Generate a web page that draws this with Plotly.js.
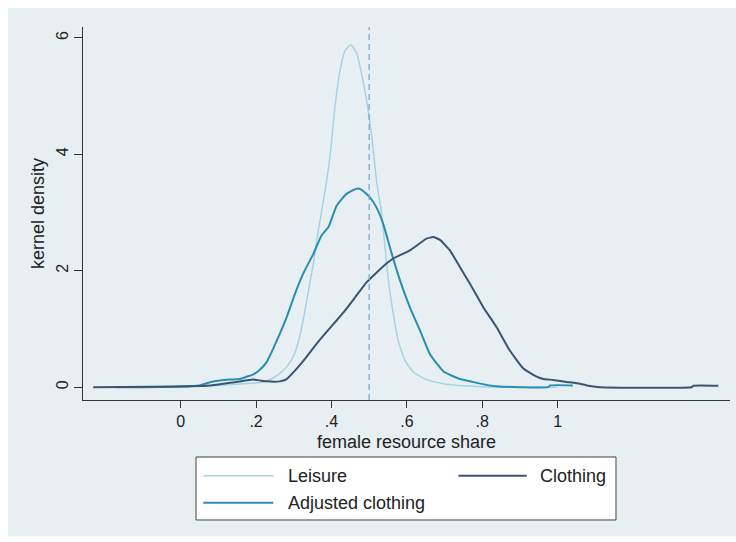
<!DOCTYPE html>
<html>
<head>
<meta charset="utf-8">
<script src="https://cdn.plot.ly/plotly-3.0.1.min.js"></script>
<style>html,body{margin:0;padding:0;background:#fff;}#chart{width:736px;height:542px;}</style>
</head>
<body>
<div id="chart"></div>
<script>
// Leisure kernel density
const leisureX = [-0.10,0.00,0.05,0.10,0.15,0.20,0.22,0.24,0.26,0.28,0.30,0.315,0.325,0.339,0.352,0.365,0.380,0.396,0.409,0.423,0.436,0.451,0.467,0.480,0.493,0.507,0.520,0.533,0.542,0.551,0.564,0.577,0.595,0.617,0.652,0.697,0.759,0.85,1.0];
const leisureY = [0,0.01,0.02,0.03,0.05,0.07,0.09,0.14,0.22,0.34,0.54,0.85,1.15,1.66,2.12,2.69,3.25,3.95,4.80,5.45,5.78,5.88,5.73,5.38,4.93,4.30,3.52,2.98,2.41,1.83,1.26,0.80,0.46,0.26,0.13,0.06,0.02,0.0,0.0];
// Adjusted clothing kernel density
const adjX = [-0.17,-0.10,0.00,0.05,0.078,0.104,0.131,0.157,0.175,0.193,0.21,0.228,0.255,0.281,0.303,0.325,0.352,0.374,0.392,0.414,0.440,0.467,0.480,0.502,0.520,0.537,0.560,0.582,0.608,0.635,0.661,0.680,0.697,0.741,0.785,0.829,0.90,0.975,0.98,1.04];
const adjY = [0,0,0.01,0.03,0.086,0.115,0.13,0.14,0.18,0.22,0.30,0.43,0.80,1.20,1.60,1.95,2.29,2.61,2.75,3.12,3.32,3.41,3.39,3.26,3.08,2.81,2.29,1.83,1.37,0.97,0.57,0.40,0.27,0.14,0.075,0.02,0.0,0.0,0.03,0.03];
// Clothing kernel density
const clothX = [-0.232,0.00,0.05,0.08,0.104,0.149,0.193,0.228,0.263,0.281,0.308,0.334,0.361,0.387,0.414,0.440,0.467,0.493,0.520,0.545,0.564,0.608,0.652,0.670,0.688,0.714,0.741,0.767,0.803,0.838,0.873,0.909,0.944,0.962,0.980,1.024,1.059,1.077,1.112,1.355,1.36,1.426];
const clothY = [0,0.01,0.02,0.03,0.05,0.09,0.13,0.10,0.10,0.14,0.32,0.52,0.75,0.95,1.15,1.35,1.58,1.80,1.97,2.12,2.21,2.35,2.55,2.58,2.53,2.35,2.06,1.78,1.37,1.03,0.63,0.32,0.18,0.14,0.13,0.09,0.06,0.03,0.0,0.0,0.024,0.024];

const xTickVals = [0,0.2,0.4,0.6,0.8,1];
const xTickText = ['0','.2','.4','.6','.8','1'];
const yTickVals = [0,2,4,6];
const yTickText = ['0','2','4','6'];
const refLineX = 0.5;

const names = ['Leisure','Clothing','Adjusted clothing'];
const colors = {leisure:'#a6d2e2', cloth:'#3a5573', adj:'#2a8db3', ref:'#7aa6cc'};

const traces = [
  {x: leisureX, y: leisureY, type:'scatter', mode:'lines', name:names[0], line:{color:colors.leisure, width:1.5, shape:'spline', smoothing:0.5}, showlegend:false},
  {x: adjX, y: adjY, type:'scatter', mode:'lines', name:names[2], line:{color:colors.adj, width:2, shape:'spline', smoothing:0.5}, showlegend:false},
  {x: clothX, y: clothY, type:'scatter', mode:'lines', name:names[1], line:{color:colors.cloth, width:2, shape:'spline', smoothing:0.4}, showlegend:false}
];

const font = 'Liberation Sans, Arial, sans-serif';
const legY1 = -0.2029, legY2 = -0.2753;
const layout = {
  width:736, height:542,
  margin:{l:83, r:6, t:27, b:142},
  paper_bgcolor:'#ffffff',
  plot_bgcolor:'#ffffff',
  font:{family:font, color:'#222', size:16},
  xaxis:{
    range:[-0.259,1.457], tickvals:xTickVals, ticktext:xTickText,
    showgrid:false, zeroline:false, showline:true, linecolor:'#333', linewidth:1,
    ticks:'outside', ticklen:7, tickcolor:'#333', tickfont:{size:16, color:'#222'},
    title:{text:'female resource share', font:{size:18, color:'#222'}, standoff:6}
  },
  yaxis:{
    range:[-0.22,6.186], tickvals:yTickVals, ticktext:yTickText, tickangle:-90,
    showgrid:true, gridcolor:'#e4eef2', gridwidth:1, zeroline:false,
    showline:true, linecolor:'#333', linewidth:1,
    ticks:'outside', ticklen:8, tickcolor:'#333', tickfont:{size:16, color:'#222'},
    title:{text:'kernel density', font:{size:18, color:'#222'}, standoff:4}
  },
  shapes:[
    {type:'rect', xref:'paper', yref:'paper', x0:-0.1159, x1:1.0093, y0:-0.365, y1:1.051, fillcolor:'#e8eff2', line:{width:0}, layer:'below'},
    {type:'line', xref:'x', yref:'paper', x0:refLineX, x1:refLineX, y0:0, y1:1, line:{color:colors.ref, width:1.3, dash:'6px,4px'}},
    {type:'rect', xref:'paper', yref:'paper', x0:0.1747, x1:0.8238, y0:-0.3217, y1:-0.1528, fillcolor:'#ffffff', line:{color:'#444', width:1}},
    {type:'line', xref:'paper', yref:'paper', x0:0.1859, x1:0.2941, y0:legY1, y1:legY1, line:{color:colors.leisure, width:1.5}},
    {type:'line', xref:'paper', yref:'paper', x0:0.5801, x1:0.6858, y0:legY1, y1:legY1, line:{color:colors.cloth, width:2}},
    {type:'line', xref:'paper', yref:'paper', x0:0.1859, x1:0.2941, y0:legY2, y1:legY2, line:{color:colors.adj, width:2}}
  ],
  annotations:[
    {xref:'paper', yref:'paper', x:0.3138, y:legY1, text:names[0], showarrow:false, xanchor:'left', yanchor:'middle', font:{size:18, color:'#222'}},
    {xref:'paper', yref:'paper', x:0.7037, y:legY1, text:names[1], showarrow:false, xanchor:'left', yanchor:'middle', font:{size:18, color:'#222'}},
    {xref:'paper', yref:'paper', x:0.3138, y:legY2, text:names[2], showarrow:false, xanchor:'left', yanchor:'middle', font:{size:18, color:'#222'}}
  ]
};

Plotly.newPlot('chart', traces, layout, {displayModeBar:false, staticPlot:true});
</script>
</body>
</html>
